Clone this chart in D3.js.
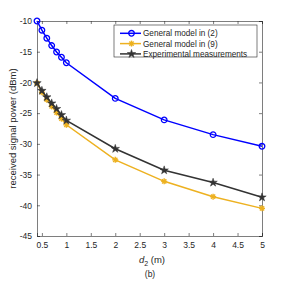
<!DOCTYPE html>
<html lang="en">
<head>
    <meta charset="utf-8">
    <script src="https://d3js.org/d3.v7.min.js"></script>
    <style>
        body { margin: 0; background: #fff; }
        text { font-family: "Liberation Sans", Helvetica, Arial, sans-serif; }
    </style>
</head>
<body>
    <div id="chart"></div>
    <script>
        const distances = [0.4, 0.5, 0.6, 0.7, 0.8, 0.9, 1, 2, 3, 4, 5];
        const model2 = [-10, -11.5, -12.8, -14.0, -15.05, -15.9, -16.8, -22.6, -26.1, -28.5, -30.4];
        const model9 = [-20.1, -21.6, -22.8, -23.9, -24.9, -25.9, -26.9, -32.6, -36.1, -38.6, -40.5];
        const measured = [-20.1, -21.35, -22.4, -23.4, -24.3, -25.3, -26.2, -30.8, -34.3, -36.3, -38.7];
        const xTicks = [0.5, 1, 1.5, 2, 2.5, 3, 3.5, 4, 4.5, 5];
        const yTicks = [-45, -40, -35, -30, -25, -20, -15, -10];
        const seriesNames = ["General model in (2)", "General model in (9)", "Experimental measurements"];

        const width = 290, height = 283;
        const margin = { top: 21, right: 28, bottom: 47, left: 37 };
        const axisColor = "#262626";

        const svg = d3.select("#chart").append("svg")
            .attr("width", width)
            .attr("height", height);

        const x = d3.scaleLinear().domain([0.4, 5]).range([margin.left, width - margin.right]);
        const y = d3.scaleLinear().domain([-45, -10]).range([height - margin.bottom, margin.top]);

        // box with ticks on all four sides
        svg.append("g")
            .attr("transform", "translate(0," + (height - margin.bottom) + ")")
            .call(d3.axisBottom(x).tickValues(xTicks).tickSize(-3).tickPadding(6).tickFormat(d => String(d)));
        svg.append("g")
            .attr("transform", "translate(0," + margin.top + ")")
            .call(d3.axisTop(x).tickValues(xTicks).tickSize(-3).tickFormat(""));
        svg.append("g")
            .attr("transform", "translate(" + margin.left + ",0)")
            .call(d3.axisLeft(y).tickValues(yTicks).tickSize(-3).tickPadding(5).tickFormat(d => String(d)));
        svg.append("g")
            .attr("transform", "translate(" + (width - margin.right) + ",0)")
            .call(d3.axisRight(y).tickValues(yTicks).tickSize(-3).tickFormat(""));

        svg.selectAll(".domain").attr("stroke", axisColor).attr("stroke-width", 0.6);
        svg.selectAll(".tick line").attr("stroke", axisColor).attr("stroke-width", 0.6);
        svg.selectAll(".tick text")
            .attr("fill", axisColor)
            .style("font-size", "8.5px")
            .style("font-family", "'Liberation Sans', Helvetica, Arial, sans-serif");

        const line = d3.line().x((d, i) => x(distances[i])).y(d => y(d));

        const series = [
            { values: model2, color: "#0000ff", marker: "circle" },
            { values: model9, color: "#EDB120", marker: "asterisk" },
            { values: measured, color: "#333333", marker: "star" }
        ];

        const starPath = d3.symbol().type(d3.symbolStar).size(22)();

        function drawMarker(g, type, color) {
            if (type === "circle") {
                g.append("circle").attr("r", 2.8).attr("fill", "none")
                    .attr("stroke", color).attr("stroke-width", 1.3);
            } else if (type === "asterisk") {
                [0, 45, 90, 135].forEach(a => {
                    g.append("line")
                        .attr("x1", -3).attr("x2", 3).attr("y1", 0).attr("y2", 0)
                        .attr("transform", "rotate(" + a + ")")
                        .attr("stroke", color).attr("stroke-width", 1.4);
                });
            } else {
                g.append("path").attr("d", starPath).attr("fill", color)
                    .attr("stroke", color).attr("stroke-width", 0.5);
            }
        }

        series.forEach(s => {
            svg.append("path")
                .datum(s.values)
                .attr("d", line)
                .attr("fill", "none")
                .attr("stroke", s.color)
                .attr("stroke-width", 1.5);
            s.values.forEach((v, i) => {
                const g = svg.append("g").attr("transform", "translate(" + x(distances[i]) + "," + y(v) + ")");
                drawMarker(g, s.marker, s.color);
            });
        });

        // legend
        const legend = svg.append("g").attr("transform", "translate(114,25)");
        legend.append("rect")
            .attr("width", 143).attr("height", 32)
            .attr("fill", "#fff").attr("stroke", axisColor).attr("stroke-width", 0.6);
        series.forEach((s, i) => {
            const ly = 8.3 + i * 10.3;
            legend.append("line")
                .attr("x1", 6).attr("x2", 27).attr("y1", ly).attr("y2", ly)
                .attr("stroke", s.color).attr("stroke-width", 1.5);
            const m = legend.append("g").attr("transform", "translate(17.5," + ly + ")");
            drawMarker(m, s.marker, s.color);
            legend.append("text")
                .attr("x", 29).attr("y", ly + 3)
                .attr("font-size", "8.2px")
                .attr("fill", axisColor)
                .text(seriesNames[i]);
        });

        // axis labels
        const xl = svg.append("text")
            .attr("x", 152).attr("y", 263)
            .attr("text-anchor", "middle")
            .attr("font-size", "9.5px")
            .attr("fill", axisColor);
        xl.append("tspan").attr("font-style", "italic").text("d");
        xl.append("tspan").attr("dy", 3).attr("font-size", "7px").text("2");
        xl.append("tspan").attr("dy", -3).text(" (m)");

        svg.append("text")
            .attr("transform", "translate(16," + ((margin.top + height - margin.bottom) / 2) + ") rotate(-90)")
            .attr("text-anchor", "middle")
            .attr("font-size", "9.5px")
            .attr("fill", axisColor)
            .text("received signal power (dBm)");

        svg.append("text")
            .attr("x", 150).attr("y", 277)
            .attr("text-anchor", "middle")
            .attr("font-size", "8.5px")
            .attr("fill", axisColor)
            .text("(b)");
    </script>
</body>
</html>
